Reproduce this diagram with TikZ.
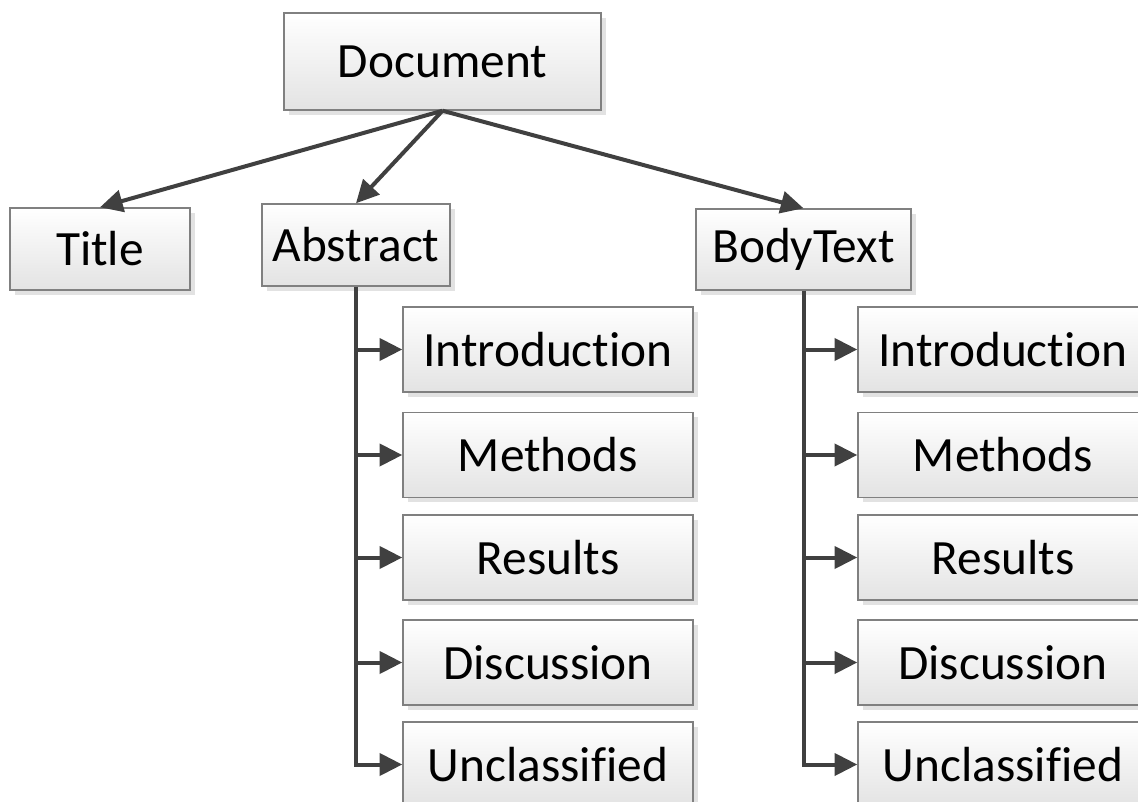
\documentclass[tikz,border=0pt]{standalone}
\usepackage{fontspec}
\setmainfont{Carlito}[Ligatures={NoCommon}]
\usetikzlibrary{arrows.meta,shadows}
\definecolor{edgegray}{HTML}{404040}
\definecolor{boxline}{HTML}{808080}
\tikzset{
  box/.style={draw=boxline, line width=1.1pt, top color=white, bottom color=black!11,
    drop shadow={shadow xshift=3.5pt, shadow yshift=-3.5pt, fill=black!25, opacity=0.45},
    inner sep=0pt, align=center, font=\fontsize{37}{44}\selectfont},
  conn/.style={draw=edgegray, line width=3pt, -{Triangle[length=17pt,width=16.5pt]}},
}
\begin{document}
\begin{tikzpicture}[x=0.75pt,y=-0.75pt]
\useasboundingbox (0,0) rectangle (1138,802);
\node[box, minimum width=317*0.75pt, minimum height=97*0.75pt] (doc) at (442.5,61.5) {Document};
\node[box, minimum width=180*0.75pt, minimum height=82*0.75pt] (title) at (100,249) {Title};
\node[box, minimum width=188*0.75pt, minimum height=82*0.75pt] (abs) at (356,245) {Abstract};
\node[box, minimum width=215*0.75pt, minimum height=81*0.75pt] (body) at (803.5,249.5) {BodyText};
\foreach \n/\t/\y in {1/Introduction/349.5, 2/Methods/455, 3/Results/557.5, 4/Discussion/662.5, 5/Unclassified/764.5}{
  \node[box, minimum width=290*0.75pt, minimum height=85*0.75pt] (a\n) at (548,\y) {\t};
  \node[box, minimum width=290*0.75pt, minimum height=85*0.75pt] (b\n) at (1003,\y) {\t};
}
\draw[conn] (doc.south) -- (title.north);
\draw[conn] (doc.south) -- (abs.north);
\draw[conn] (doc.south) -- (body.north);
\draw[conn] (abs.south) |- (a5.west);
\draw[conn] (body.south) |- (b5.west);
\foreach \n in {1,2,3,4}{
  \draw[conn] (abs.south |- a\n.west) -- (a\n.west);
  \draw[conn] (body.south |- b\n.west) -- (b\n.west);
}
\end{tikzpicture}
\end{document}
